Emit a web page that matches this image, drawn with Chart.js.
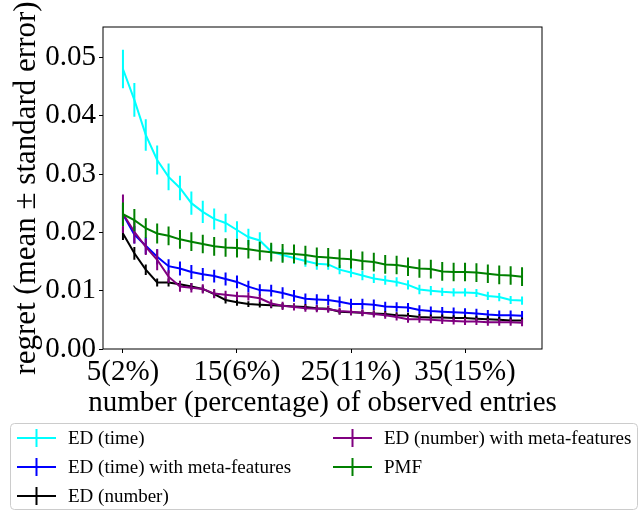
<!DOCTYPE html>
<html>
<head>
<meta charset="utf-8">
<script src="https://cdn.jsdelivr.net/npm/chart.js@4/dist/chart.umd.min.js"></script>
<style>
  html, body { margin: 0; padding: 0; background: #fff; }
  #wrap { width: 644px; height: 512px; }
</style>
</head>
<body>
<div id="wrap"><canvas id="chart" width="644" height="512"></canvas></div>
<script>
// observed entries (x positions)
const xs = [5,6,7,8,9,10,11,12,13,14,15,16,17,18,19,20,21,22,23,24,25,26,27,28,29,30,31,32,33,34,35,36,37,38,39,40];
const xTickValues = [5, 15, 25, 35];
const xTickLabels = ["5(2%)", "15(6%)", "25(11%)", "35(15%)"];
const yTickValues = [0, 0.01, 0.02, 0.03, 0.04, 0.05];
const xTitle = "number (percentage) of observed entries";
const yTitle = "regret (mean \u00b1 standard error)";

const seriesNames = ["ED (time)", "ED (time) with meta-features", "ED (number)", "ED (number) with meta-features", "PMF"];
const seriesColors = ["#00ffff", "#0000ff", "#000000", "#800080", "#008000"];

// mean regret
const edTime = [0.0480,0.0427,0.0367,0.0324,0.0295,0.0276,0.0250,0.0235,0.0223,0.0216,0.0204,0.0192,0.0186,0.0167,0.0161,0.0156,0.0151,0.0146,0.0145,0.0136,0.0131,0.0126,0.0121,0.0118,0.0115,0.0110,0.0102,0.0100,0.0098,0.0097,0.0097,0.0096,0.0091,0.0089,0.0084,0.0083];
const edTimeMeta = [0.0231,0.0196,0.0177,0.0158,0.0142,0.0138,0.0132,0.0128,0.0125,0.0120,0.0115,0.0107,0.0101,0.0100,0.0096,0.0091,0.0086,0.0085,0.0084,0.0081,0.0077,0.0077,0.0076,0.0073,0.0072,0.0071,0.0067,0.0065,0.0064,0.0063,0.0062,0.0061,0.0059,0.0058,0.0058,0.0057];
const edNumber = [0.0198,0.0164,0.0136,0.0114,0.0114,0.0111,0.0107,0.0103,0.0094,0.0084,0.0080,0.0077,0.0076,0.0075,0.0074,0.0073,0.0072,0.0070,0.0069,0.0064,0.0063,0.0062,0.0061,0.0060,0.0058,0.0057,0.0055,0.0054,0.0054,0.0053,0.0053,0.0052,0.0051,0.0050,0.0049,0.0049];
const edNumberMeta = [0.0232,0.0201,0.0175,0.0153,0.0124,0.0107,0.0105,0.0103,0.0095,0.0093,0.0091,0.0090,0.0087,0.0078,0.0074,0.0072,0.0070,0.0069,0.0068,0.0065,0.0064,0.0062,0.0060,0.0058,0.0055,0.0051,0.0051,0.0050,0.0049,0.0048,0.0047,0.0047,0.0046,0.0046,0.0046,0.0045];
const pmf = [0.0231,0.0221,0.0207,0.0198,0.0194,0.0188,0.0184,0.0180,0.0176,0.0174,0.0173,0.0171,0.0168,0.0166,0.0164,0.0163,0.0161,0.0158,0.0157,0.0155,0.0154,0.0151,0.0149,0.0145,0.0144,0.0141,0.0138,0.0137,0.0133,0.0132,0.0132,0.0131,0.0129,0.0127,0.0126,0.0124];

// standard error
const edTimeErr = [0.0033,0.0029,0.0027,0.0025,0.0023,0.0021,0.0020,0.0019,0.0018,0.0016,0.0015,0.0014,0.0014,0.0012,0.0011,0.0010,0.0010,0.0010,0.0009,0.0008,0.0008,0.0008,0.0008,0.0008,0.0008,0.0008,0.0008,0.0008,0.0007,0.0007,0.0007,0.0007,0.0007,0.0007,0.0007,0.0007];
const edTimeMetaErr = [0.0017,0.0015,0.0014,0.0013,0.0012,0.0012,0.0012,0.0011,0.0011,0.0011,0.0011,0.0010,0.0010,0.0010,0.0010,0.0010,0.0009,0.0009,0.0009,0.0009,0.0009,0.0009,0.0009,0.0008,0.0008,0.0008,0.0008,0.0008,0.0008,0.0008,0.0008,0.0008,0.0008,0.0008,0.0008,0.0008];
const edNumberErr = [0.0011,0.0011,0.0009,0.0007,0.0007,0.0006,0.0006,0.0006,0.0006,0.0006,0.0006,0.0005,0.0005,0.0005,0.0005,0.0005,0.0005,0.0005,0.0005,0.0005,0.0005,0.0005,0.0005,0.0005,0.0005,0.0005,0.0005,0.0005,0.0005,0.0005,0.0005,0.0005,0.0005,0.0005,0.0005,0.0005];
const edNumberMetaErr = [0.0033,0.0020,0.0014,0.0018,0.0011,0.0009,0.0008,0.0008,0.0008,0.0007,0.0007,0.0007,0.0007,0.0007,0.0007,0.0006,0.0006,0.0006,0.0006,0.0006,0.0006,0.0006,0.0006,0.0006,0.0006,0.0006,0.0006,0.0006,0.0006,0.0006,0.0006,0.0006,0.0006,0.0006,0.0006,0.0006];
const pmfErr = [0.0020,0.0019,0.0017,0.0017,0.0016,0.0016,0.0016,0.0016,0.0016,0.0016,0.0016,0.0016,0.0016,0.0016,0.0016,0.0016,0.0016,0.0016,0.0016,0.0016,0.0016,0.0016,0.0016,0.0016,0.0016,0.0016,0.0016,0.0016,0.0016,0.0016,0.0016,0.0016,0.0016,0.0016,0.0016,0.0016];

const means = [edTime, edTimeMeta, edNumber, edNumberMeta, pmf];
const errs = [edTimeErr, edTimeMetaErr, edNumberErr, edNumberMetaErr, pmfErr];

const FONT = "'Liberation Serif', 'Times New Roman', serif";

const datasets = seriesNames.map((name, i) => ({
  label: name,
  data: xs.map((x, j) => ({ x: x, y: means[i][j] })),
  errors: errs[i],
  borderColor: seriesColors[i],
  backgroundColor: seriesColors[i],
  borderWidth: 2,
  pointRadius: 0,
  tension: 0,
  fill: false,
  order: seriesNames.length - i
}));

// vertical error bars, drawn right after each line so stacking matches
const errorBars = {
  id: "errorBars",
  afterDatasetDraw(chart, args) {
    const ds = chart.data.datasets[args.index];
    const { ctx, scales: { x, y } } = chart;
    ctx.save();
    ctx.strokeStyle = ds.borderColor;
    ctx.lineWidth = 2;
    ctx.beginPath();
    ds.data.forEach((p, j) => {
      const px = x.getPixelForValue(p.x);
      ctx.moveTo(px, y.getPixelForValue(p.y - ds.errors[j]));
      ctx.lineTo(px, y.getPixelForValue(p.y + ds.errors[j]));
    });
    ctx.stroke();
    ctx.restore();
  }
};

// full box around the axes, plus both axis titles (chart.js would squeeze them to the axis length)
const frame = {
  id: "frame",
  afterDatasetsDraw(chart) {
    const { ctx, chartArea: a } = chart;
    ctx.save();
    ctx.strokeStyle = "#000";
    ctx.lineWidth = 1;
    ctx.strokeRect(a.left, a.top, a.right - a.left, a.bottom - a.top);
    ctx.fillStyle = "#000";
    ctx.font = "29px " + FONT;
    ctx.textAlign = "center";
    ctx.textBaseline = "alphabetic";
    ctx.fillText(xTitle, (a.left + a.right) / 2, 411);
    ctx.font = "31px " + FONT;
    ctx.translate(35, (a.top + a.bottom) / 2);
    ctx.rotate(-Math.PI / 2);
    ctx.fillText(yTitle, 0, 0);
    ctx.restore();
  }
};

// two-column legend below the axes (column major, like matplotlib ncol=2)
const legendBox = {
  id: "legendBox",
  afterDraw(chart) {
    const ctx = chart.ctx;
    ctx.save();
    ctx.fillStyle = "rgba(255,255,255,0.8)";
    ctx.strokeStyle = "#cccccc";
    ctx.lineWidth = 1;
    ctx.beginPath();
    ctx.roundRect(10.5, 423.5, 627, 86, 4);
    ctx.fill();
    ctx.stroke();
    const colX = [17, 333];
    const rowY = [438, 467, 496];
    ctx.font = "19px " + FONT;
    ctx.textBaseline = "middle";
    seriesNames.forEach((name, i) => {
      const cx = colX[Math.floor(i / 3)];
      const cy = rowY[i % 3];
      ctx.strokeStyle = seriesColors[i];
      ctx.lineWidth = 2;
      ctx.beginPath();
      ctx.moveTo(cx, cy); ctx.lineTo(cx + 39, cy);
      ctx.moveTo(cx + 19.5, cy - 9); ctx.lineTo(cx + 19.5, cy + 9);
      ctx.stroke();
      ctx.fillStyle = "#000";
      ctx.fillText(name, cx + 51, cy + 1);
    });
    ctx.restore();
  }
};

new Chart(document.getElementById("chart"), {
  type: "line",
  data: { datasets },
  plugins: [errorBars, frame, legendBox],
  options: {
    responsive: false,
    animation: false,
    layout: { padding: { left: 0, top: 27, right: 102, bottom: 0 } },
    plugins: { legend: { display: false }, tooltip: { enabled: false } },
    scales: {
      x: {
        type: "linear",
        min: 3.25,
        max: 41.75,
        afterFit: s => { s.height = 163; },
        afterBuildTicks: s => { s.ticks = xTickValues.map(v => ({ value: v })); },
        grid: { drawOnChartArea: false, drawTicks: true, tickLength: 4, color: "#000" },
        border: { display: false },
        ticks: {
          autoSkip: false, maxRotation: 0, padding: 2, color: "#000",
          font: { family: FONT, size: 29, lineHeight: 1.2 },
          callback: (v, i) => xTickLabels[i]
        },
        title: { display: false }
      },
      y: {
        type: "linear",
        min: 0,
        max: 0.0552,
        afterFit: s => { s.width = 103; },
        afterBuildTicks: s => { s.ticks = yTickValues.map(v => ({ value: v })); },
        grid: { drawOnChartArea: false, drawTicks: true, tickLength: 4, color: "#000" },
        border: { display: false },
        ticks: {
          padding: 3, color: "#000",
          font: { family: FONT, size: 29, lineHeight: 1.2 },
          callback: v => v.toFixed(2)
        },
        title: { display: false }
      }
    }
  }
});
</script>
</body>
</html>
